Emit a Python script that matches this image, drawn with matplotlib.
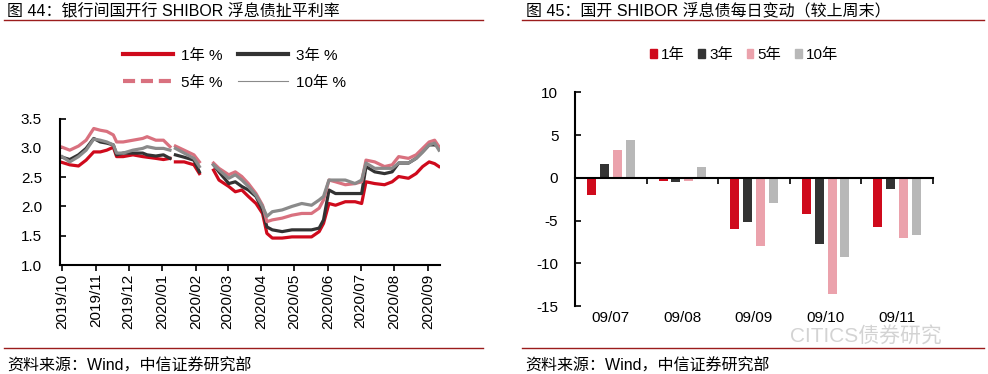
import matplotlib
matplotlib.use("Agg")
import matplotlib.pyplot as plt
import matplotlib.dates as mdates
from matplotlib.lines import Line2D
from matplotlib.patches import Patch
import numpy as np
import pandas as pd

plt.rcParams["font.family"] = ["Liberation Sans", "Noto Sans CJK SC"]
plt.rcParams["axes.unicode_minus"] = False

nan = np.nan

# ---- left chart: SHIBOR floating-rate bond yields (%) ----
dates = ["2019-10-01", "2019-10-08", "2019-10-16", "2019-10-23", "2019-10-30",
         "2019-11-05", "2019-11-11", "2019-11-17", "2019-11-20", "2019-11-26",
         "2019-12-05", "2019-12-14", "2019-12-18", "2019-12-26", "2020-01-02",
         "2020-01-08", "2020-01-10", "2020-01-13", "2020-01-21", "2020-01-30",
         "2020-02-04", "2020-02-10", "2020-02-17", "2020-02-22", "2020-03-02",
         "2020-03-08", "2020-03-14", "2020-03-20", "2020-03-27", "2020-04-02",
         "2020-04-06", "2020-04-11", "2020-04-20", "2020-04-29", "2020-05-08",
         "2020-05-17", "2020-05-24", "2020-05-28", "2020-06-02", "2020-06-08",
         "2020-06-17", "2020-06-26", "2020-07-02", "2020-07-06", "2020-07-14",
         "2020-07-23", "2020-07-30", "2020-08-05", "2020-08-14", "2020-08-21",
         "2020-08-27", "2020-09-02", "2020-09-07", "2020-09-11"]

y1 = [2.75, 2.71, 2.69, 2.79, 2.93, 2.93, 2.96, 3.01, 2.85, 2.85, 2.88, 2.85, 2.84, 2.82,
      2.80, 2.82, nan, 2.76, 2.76, 2.71, 2.56, nan, 2.62, 2.45, 2.34, 2.25, 2.28, 2.17,
      2.05, 1.88, 1.54, 1.46, 1.46, 1.48, 1.48, 1.48, 1.57, 1.71, 2.05, 2.02, 2.08, 2.08,
      2.05, 2.42, 2.39, 2.37, 2.42, 2.51, 2.48, 2.56, 2.68, 2.76, 2.73, 2.68]
y3 = [2.84, 2.80, 2.88, 2.99, 3.16, 3.10, 3.08, 3.05, 2.88, 2.91, 2.91, 2.91, 2.88, 2.86,
      2.88, 2.82, nan, 2.88, 2.84, 2.79, 2.59, nan, 2.71, 2.59, 2.39, 2.42, 2.34, 2.28,
      2.17, 1.94, 1.65, 1.60, 1.57, 1.60, 1.60, 1.60, 1.63, 1.77, 2.28, 2.22, 2.22, 2.22,
      2.22, 2.68, 2.59, 2.56, 2.59, 2.74, 2.74, 2.82, 2.93, 3.05, 3.05, 3.02]
y5 = [3.01, 2.96, 3.03, 3.13, 3.33, 3.30, 3.28, 3.22, 3.10, 3.10, 3.13, 3.16, 3.19, 3.13,
      3.13, 3.02, nan, 3.03, 2.96, 2.88, 2.76, nan, 2.74, 2.65, 2.54, 2.59, 2.51, 2.39,
      2.22, 2.02, 1.74, 1.77, 1.80, 1.85, 1.88, 1.88, 1.97, 2.11, 2.45, 2.42, 2.37, 2.39,
      2.42, 2.79, 2.76, 2.68, 2.71, 2.85, 2.82, 2.88, 2.99, 3.10, 3.13, 3.02]
y10 = [2.85, 2.76, 2.85, 2.96, 3.15, 3.13, 3.10, 3.05, 2.91, 2.91, 2.96, 2.99, 3.02, 2.99,
       2.99, 2.96, nan, 2.99, 2.91, 2.82, 2.68, nan, 2.71, 2.62, 2.48, 2.54, 2.45, 2.34,
       2.19, 2.00, 1.83, 1.91, 1.94, 2.00, 2.05, 2.02, 2.11, 2.17, 2.45, 2.45, 2.45, 2.39,
       2.45, 2.74, 2.65, 2.65, 2.65, 2.74, 2.74, 2.82, 2.93, 3.05, 3.08, 2.96]

line_labels = ["1年 %", "3年 %", "5年 %", "10年 %"]

# ---- right chart: daily change vs last weekend (bp) ----
days = ["09/07", "09/08", "09/09", "09/10", "09/11"]
bar_labels = ["1年", "3年", "5年", "10年"]
chg_1y = [-2.0, -0.35, -6.0, -4.2, -5.7]
chg_3y = [1.6, -0.45, -5.2, -7.8, -1.3]
chg_5y = [3.3, -0.35, -7.95, -13.6, -7.1]
chg_10y = [4.4, 1.3, -2.9, -9.3, -6.75]

red = "#CF0A1C"
dark = "#333333"
pink_line = "#D9717F"
gray_line = "#8A8A8A"
pink_bar = "#EBA2AC"
gray_bar = "#B8B8B8"
rule = "#9B1C1C"

fig = plt.figure(figsize=(9.88, 3.74), dpi=100)

# ---------------- left panel ----------------
ax = fig.add_axes([0.0607, 0.2914, 0.3847, 0.3917])
t = pd.to_datetime(dates)
ax.plot(t, y1, color=red, lw=2.3)
ax.plot(t, y3, color=dark, lw=2.3)
ax.plot(t, y5, color=pink_line, lw=2.3)
ax.plot(t, y10, color=gray_line, lw=2.3)

ax.set_ylim(1.0, 3.5)
ax.set_yticks(np.arange(1.0, 3.51, 0.5))
ax.set_yticklabels([f"{v:.1f}" for v in np.arange(1.0, 3.51, 0.5)])
ax.set_xlim(pd.Timestamp("2019-09-29"), pd.Timestamp("2020-09-12"))
ax.set_xticks(pd.date_range("2019-10-01", "2020-09-01", freq="MS"))
ax.xaxis.set_major_formatter(mdates.DateFormatter("%Y/%m"))
ax.tick_params(axis="x", rotation=90, direction="out", length=4, width=1.2, pad=2,
               labelsize=11)
ax.tick_params(axis="y", direction="in", length=4, width=1.2, pad=13, labelsize=11)
for s in ["top", "right"]:
    ax.spines[s].set_visible(False)
for s in ["left", "bottom"]:
    ax.spines[s].set_linewidth(1.5)

handles = [
    Line2D([], [], color=red, lw=3),
    Line2D([], [], color=pink_line, lw=3, ls=(0, (2.9, 1.4))),
    Line2D([], [], color=dark, lw=3),
    Line2D([], [], color=gray_line, lw=0.8),
]
fig.legend(handles, [line_labels[0], line_labels[2], line_labels[1], line_labels[3]],
           loc="center", bbox_to_anchor=(0.237, 0.815), ncol=2, frameon=False,
           fontsize=11, handlelength=3.3, handletextpad=0.5, columnspacing=1.0,
           labelspacing=0.85)

# ---------------- right panel ----------------
bx = fig.add_axes([0.582, 0.1818, 0.3623, 0.5714])
x = np.arange(len(days))
offsets = [-0.27, -0.09, 0.09, 0.27]
for vals, col, off, lab in zip([chg_1y, chg_3y, chg_5y, chg_10y],
                               [red, dark, pink_bar, gray_bar], offsets, bar_labels):
    bx.bar(x + off, vals, width=0.125, color=col, label=lab, zorder=2)

bx.set_xlim(-0.5, 4.5)
bx.set_ylim(-15, 10)
bx.set_yticks(np.arange(-15, 11, 5))
bx.tick_params(axis="y", direction="in", length=4, width=1.2, pad=12, labelsize=11)
bx.spines["bottom"].set_position(("data", 0))
bx.spines["bottom"].set_linewidth(1.5)
bx.spines["left"].set_linewidth(1.5)
for s in ["top", "right"]:
    bx.spines[s].set_visible(False)
bx.set_xticks(x + 0.5)
bx.set_xticklabels([])
bx.tick_params(axis="x", direction="out", length=4, width=1.2)
for i, d in enumerate(days):
    bx.text(i, -0.025, d, transform=bx.get_xaxis_transform(), ha="center", va="top",
            fontsize=11)

bhandles = [Patch(color=c) for c in [red, dark, pink_bar, gray_bar]]
fig.legend(bhandles, bar_labels, loc="center", bbox_to_anchor=(0.753, 0.853), ncol=4,
           frameon=False, fontsize=11, handlelength=0.45, handleheight=0.45,
           handletextpad=0.25, columnspacing=0.9)

# watermark
fig.text(0.80, 0.100, "CITICS债券研究", fontsize=15, color="#cfcfcf", ha="left",
         va="center", alpha=0.9)

# ---------------- titles, sources, rules ----------------
fig.text(0.007, 0.972, "图 44：银行间国开行 SHIBOR 浮息债扯平利率", fontsize=11.5,
         ha="left", va="center")
fig.text(0.532, 0.972, "图 45：国开 SHIBOR 浮息债每日变动（较上周末）", fontsize=11.5,
         ha="left", va="center")
fig.text(0.007, 0.022, "资料来源：Wind，中信证券研究部", fontsize=11.5, ha="left",
         va="center")
fig.text(0.532, 0.022, "资料来源：Wind，中信证券研究部", fontsize=11.5, ha="left",
         va="center")
for y in [1 - 20 / 374, 1 - 348 / 374]:
    fig.add_artist(Line2D([4 / 988, 483 / 988], [y, y], color=rule, lw=1.0))
    fig.add_artist(Line2D([522 / 988, 984 / 988], [y, y], color=rule, lw=1.0))

fig.savefig("out.png", dpi=100)
